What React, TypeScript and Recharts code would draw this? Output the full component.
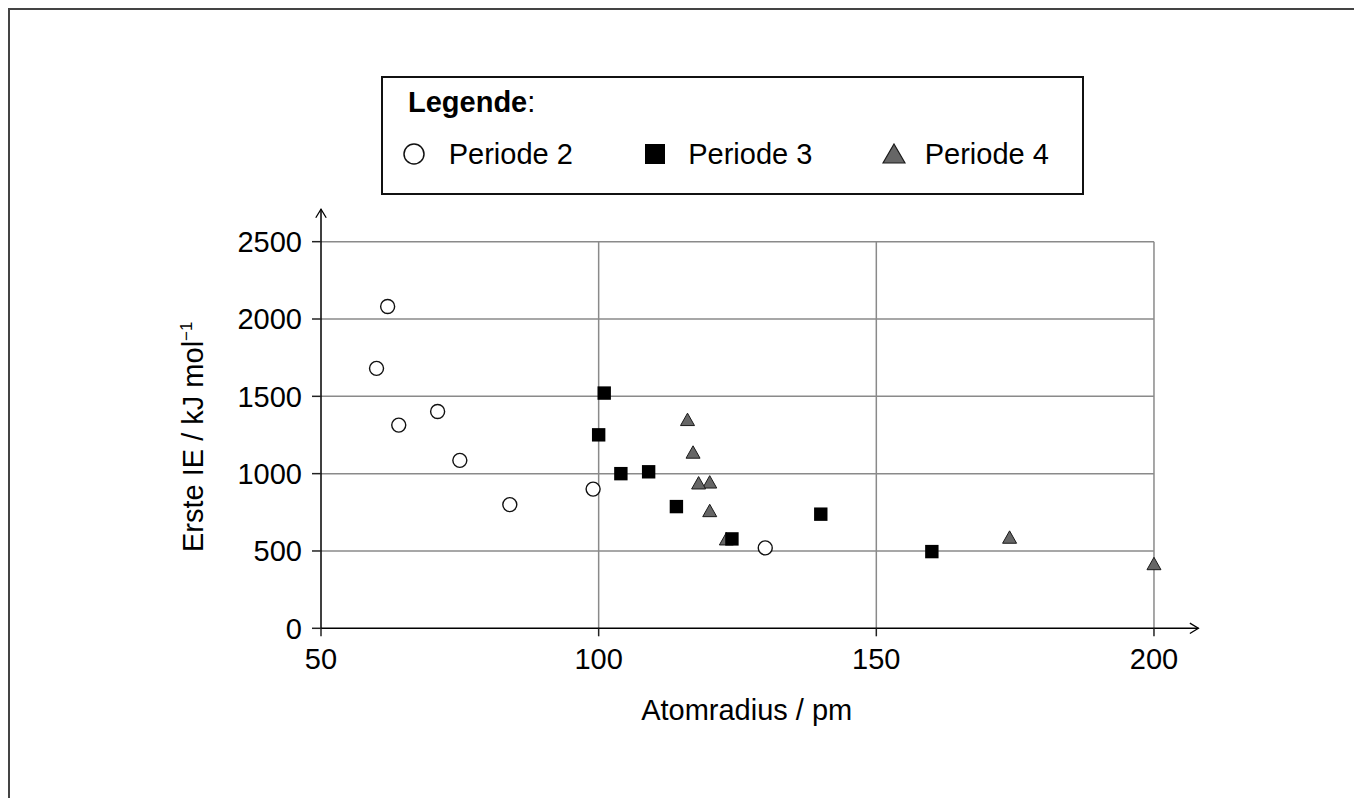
import React from 'react';
import { ScatterChart, Scatter, XAxis, YAxis, ReferenceLine, Label } from 'recharts';

const FONT = '"Liberation Sans", Arial, Helvetica, sans-serif';

// Atomradius (pm) und erste Ionisierungsenergie (kJ/mol)
const period2Radius = [130, 99, 84, 75, 71, 64, 60, 62];
const period2IE = [520, 900, 800, 1086, 1402, 1314, 1681, 2081];
const period3Radius = [160, 140, 124, 114, 109, 104, 100, 101];
const period3IE = [496, 738, 578, 787, 1012, 1000, 1251, 1521];
const period4Radius = [200, 174, 123, 120, 120, 118, 117, 116];
const period4IE = [419, 590, 579, 762, 947, 941, 1140, 1351];

const seriesNames = ['Periode 2', 'Periode 3', 'Periode 4'];
const xTicks = [50, 100, 150, 200];
const yTicks = [0, 500, 1000, 1500, 2000, 2500];
const xDomain = [50, 208];
const yDomain = [0, 2710];

const toPoints = (xs: number[], ys: number[]) => xs.map((x, i) => ({ x, y: ys[i] }));

const period2 = toPoints(period2Radius, period2IE);
const period3 = toPoints(period3Radius, period3IE);
const period4 = toPoints(period4Radius, period4IE);

const CircleMarker = ({ cx, cy }: any) => (
  <circle cx={cx} cy={cy} r={7} fill="#fff" stroke="#111" strokeWidth={1.4} />
);
const SquareMarker = ({ cx, cy }: any) => (
  <rect x={cx - 6.7} y={cy - 6.7} width={13.4} height={13.4} fill="#000" />
);
const TriangleMarker = ({ cx, cy }: any) => (
  <polygon
    points={`${cx},${cy - 6.2} ${cx + 7},${cy + 6.2} ${cx - 7},${cy + 6.2}`}
    fill="#666"
    stroke="#1a1a1a"
    strokeWidth={1}
  />
);

const ArrowLine = ({ x1, y1, x2, y2 }: any) => {
  const ang = Math.atan2(y2 - y1, x2 - x1);
  const len = 10;
  const spread = 0.55;
  const ax = x2 - len * Math.cos(ang - spread);
  const ay = y2 - len * Math.sin(ang - spread);
  const bx = x2 - len * Math.cos(ang + spread);
  const by = y2 - len * Math.sin(ang + spread);
  return (
    <g>
      <line x1={x1} y1={y1} x2={x2} y2={y2} stroke="#000" strokeWidth={1.5} />
      <polyline points={`${ax},${ay} ${x2},${y2} ${bx},${by}`} fill="none" stroke="#000" strokeWidth={1.3} />
    </g>
  );
};

const XTitle = ({ viewBox }: any) => (
  <text
    x={viewBox.x + viewBox.width / 2 - 13}
    y={viewBox.y + 92}
    textAnchor="middle"
    fontSize={29}
    fontFamily={FONT}
    fill="#000"
  >
    Atomradius / pm
  </text>
);

const YTitle = ({ viewBox }: any) => {
  const x = viewBox.x - 38;
  const y = viewBox.y + viewBox.height / 2 + 18;
  return (
    <text
      x={x}
      y={y}
      transform={`rotate(-90, ${x}, ${y})`}
      textAnchor="middle"
      fontSize={29}
      fontFamily={FONT}
      fill="#000"
    >
      Erste IE / kJ mol
      <tspan fontSize={17} dy={-11}>−1</tspan>
    </text>
  );
};

const LegendBox = () => {
  const icons = [
    <circle cx={11} cy={11} r={10} fill="#fff" stroke="#111" strokeWidth={1.5} />,
    <rect x={1} y={1} width={20} height={20} fill="#000" />,
    <polygon points="12,1 23,20 1,20" fill="#666" stroke="#1a1a1a" strokeWidth={1.2} />,
  ];
  const iconX = [20.5, 261.5, 499.5];
  const textX = [66, 305.5, 542];
  return (
    <div
      style={{
        position: 'absolute',
        left: 372.7,
        top: 67.7,
        width: 703.3,
        height: 119.3,
        border: '2px solid #111',
        boxSizing: 'border-box',
        fontFamily: FONT,
        fontSize: 29,
        lineHeight: '32px',
        color: '#000',
        background: '#fff',
      }}
    >
      <div style={{ position: 'absolute', left: 25.3, top: 8 }}>
        <b>Legende</b>:
      </div>
      {seriesNames.map((name, i) => (
        <React.Fragment key={name}>
          <svg
            width={24}
            height={22}
            style={{ position: 'absolute', left: iconX[i], top: 65.5 }}
          >
            {icons[i]}
          </svg>
          <div style={{ position: 'absolute', left: textX[i], top: 60.5, whiteSpace: 'nowrap' }}>{name}</div>
        </React.Fragment>
      ))}
    </div>
  );
};

export default function App() {
  const tickStyle = { fontSize: 29, fontFamily: FONT, fill: '#000' };
  return (
    <div style={{ position: 'relative', width: 1354, height: 790 }}>
      <style>{'body { overflow: hidden; }'}</style>
      <div
        style={{
          position: 'absolute',
          left: 0,
          top: 0,
          width: 1354,
          height: 790,
          borderTop: '2px solid #444',
          borderLeft: '2px solid #444',
          boxSizing: 'border-box',
        }}
      />
      <div style={{ position: 'absolute', left: 0, top: 0 }}>
        <ScatterChart
          width={1354}
          height={790}
          margin={{ top: 201.2, right: 163.6, bottom: 109.7, left: 233 }}
        >
          <XAxis
            type="number"
            dataKey="x"
            domain={xDomain}
            ticks={xTicks}
            axisLine={false}
            tickLine={{ stroke: '#222', strokeWidth: 1.5 }}
            tickSize={8}
            tickMargin={12}
            tick={tickStyle}
            height={60}
            label={<Label content={XTitle} />}
          />
          <YAxis
            type="number"
            dataKey="y"
            domain={yDomain}
            ticks={yTicks}
            axisLine={false}
            tickLine={{ stroke: '#222', strokeWidth: 1.5 }}
            tickSize={9}
            tickMargin={10}
            tick={tickStyle}
            width={80}
            label={<Label content={YTitle} />}
          />
          {yTicks.slice(1).map((v) => (
            <ReferenceLine
              key={`h${v}`}
              segment={[{ x: xTicks[0], y: v }, { x: xTicks[xTicks.length - 1], y: v }]}
              stroke="#8a8a8a"
              strokeWidth={1.5}
              ifOverflow="visible"
            />
          ))}
          {xTicks.slice(1).map((v) => (
            <ReferenceLine
              key={`v${v}`}
              segment={[{ x: v, y: yTicks[0] }, { x: v, y: yTicks[yTicks.length - 1] }]}
              stroke="#8a8a8a"
              strokeWidth={1.5}
              ifOverflow="visible"
            />
          ))}
          <ReferenceLine
            segment={[{ x: xDomain[0], y: 0 }, { x: xDomain[1], y: 0 }]}
            shape={ArrowLine}
            ifOverflow="visible"
          />
          <ReferenceLine
            segment={[{ x: xDomain[0], y: 0 }, { x: xDomain[0], y: yDomain[1] }]}
            shape={ArrowLine}
            ifOverflow="visible"
          />
          <Scatter name={seriesNames[2]} data={period4} shape={TriangleMarker} isAnimationActive={false} />
          <Scatter name={seriesNames[1]} data={period3} shape={SquareMarker} isAnimationActive={false} />
          <Scatter name={seriesNames[0]} data={period2} shape={CircleMarker} isAnimationActive={false} />
        </ScatterChart>
      </div>
      <LegendBox />
    </div>
  );
}
